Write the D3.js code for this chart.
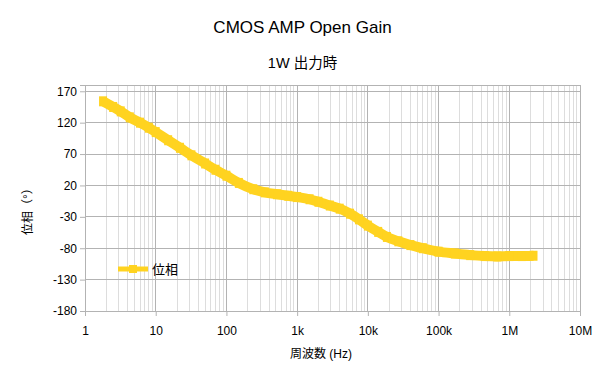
<!DOCTYPE html>
<html>
<head>
<meta charset="utf-8">
<script src="https://cdn.jsdelivr.net/npm/d3@7"></script>
<style>
  body { margin: 0; background: #fff; }
  text { font-family: "Liberation Sans", "Noto Sans CJK JP", sans-serif; }
</style>
</head>
<body>
<div id="chart-area"></div>
<script>
// phase response
var freqs  = [1.8, 2.5, 3.2, 4.3, 6, 8, 10, 15, 22, 32, 50, 70, 100, 150, 240, 350, 520, 750, 1000, 1500, 2000, 2900, 4000, 5600, 7500, 10000, 14000, 18600, 27000, 40000, 60000, 100000, 170000, 280000, 450000, 680000, 1000000, 1500000, 2200000];
var phases = [154, 145, 138, 128.5, 120, 112, 105, 92, 80, 68, 55, 45, 35.5, 24, 14, 9, 6, 3.5, 1.5, -2, -6, -12, -17, -25, -34, -44, -54, -62, -69, -75, -80, -85.5, -88.5, -91, -92.5, -93, -92.5, -92.5, -92];
var yTicks = [-180, -130, -80, -30, 20, 70, 120, 170];
var xTicks = [1, 10, 100, 1e3, 1e4, 1e5, 1e6, 1e7];
var xTickLabels = ["1", "10", "100", "1k", "10k", "100k", "1M", "10M"];
var seriesName = "位相";

var W = 605, H = 381;
var margin = {left: 85, right: 25, top: 85, bottom: 70};
var width = W - margin.left - margin.right;
var height = H - margin.top - margin.bottom;

var svg = d3.select("#chart-area").append("svg")
    .attr("width", W)
    .attr("height", H);

var g = svg.append("g")
    .attr("transform", "translate(" + margin.left + "," + margin.top + ")");

var x = d3.scaleLog().domain([1, 1e7]).range([0, width]);
var y = d3.scaleLinear().domain([-180, 180]).range([height, 0]);

// minor grid
var minor = [];
for (var e = 0; e < 7; e++) {
    for (var m = 2; m <= 9; m++) minor.push(m * Math.pow(10, e));
}
g.selectAll(".minor").data(minor).enter().append("line")
    .attr("x1", function(d){ return x(d); })
    .attr("x2", function(d){ return x(d); })
    .attr("y1", 0).attr("y2", height)
    .attr("stroke", "#dddddd").attr("stroke-width", 1)
    .attr("shape-rendering", "crispEdges");

// major grid
g.selectAll(".vmajor").data(xTicks).enter().append("line")
    .attr("x1", function(d){ return x(d); })
    .attr("x2", function(d){ return x(d); })
    .attr("y1", 0).attr("y2", height)
    .attr("stroke", "#b3b3b3").attr("shape-rendering", "crispEdges");
g.selectAll(".hmajor").data(yTicks.concat([180])).enter().append("line")
    .attr("x1", 0).attr("x2", width)
    .attr("y1", function(d){ return y(d); })
    .attr("y2", function(d){ return y(d); })
    .attr("stroke", "#b3b3b3").attr("shape-rendering", "crispEdges");

// axes
var xAxisCall = d3.axisBottom(x)
    .tickValues(xTicks)
    .tickSize(5)
    .tickFormat(function(d, i){ return xTickLabels[i]; });
var xAxis = g.append("g")
    .attr("transform", "translate(0," + height + ")")
    .call(xAxisCall);

var yAxisCall = d3.axisLeft(y)
    .tickValues(yTicks)
    .tickSize(5)
    .tickFormat(function(d){ return d; });
var yAxis = g.append("g").call(yAxisCall);

[xAxis, yAxis].forEach(function(a){
    a.select(".domain").attr("stroke", "#b3b3b3");
    a.selectAll(".tick line").attr("stroke", "#b3b3b3");
    a.selectAll(".tick text")
        .attr("fill", "#000")
        .attr("font-size", "12px")
        .attr("font-family", "Liberation Sans, sans-serif");
});
xAxis.selectAll(".tick text").attr("dy", "1.3em");
yAxis.selectAll(".tick text").attr("x", -8);

// series
var data = freqs.map(function(f, i){ return {f: f, v: phases[i]}; });
var line = d3.line()
    .x(function(d){ return x(d.f); })
    .y(function(d){ return y(d.v); })
    .curve(d3.curveMonotoneX);

g.append("path")
    .datum(data)
    .attr("fill", "none")
    .attr("stroke", "#ffd320")
    .attr("stroke-width", 10)
    .attr("stroke-linejoin", "round")
    .attr("d", line);

g.selectAll(".pt").data(data).enter().append("rect")
    .attr("x", function(d){ return x(d.f) - 4; })
    .attr("y", function(d){ return y(d.v) - 5; })
    .attr("width", 8).attr("height", 10)
    .attr("fill", "#ffd320");

// legend
var lg = svg.append("g").attr("transform", "translate(118,269)");
lg.append("line")
    .attr("x1", 0).attr("x2", 30)
    .attr("stroke", "#ffd320").attr("stroke-width", 5);
lg.append("rect")
    .attr("x", 11).attr("y", -4).attr("width", 8).attr("height", 8)
    .attr("fill", "#ffd320");
lg.append("text")
    .attr("x", 34).attr("y", 5)
    .attr("font-size", "13px")
    .attr("font-family", "Noto Sans CJK JP, sans-serif")
    .text(seriesName);

// titles
svg.append("text")
    .attr("x", W / 2).attr("y", 33)
    .attr("text-anchor", "middle")
    .attr("font-size", "17px")
    .text("CMOS AMP Open Gain");

svg.append("text")
    .attr("x", W / 2).attr("y", 68)
    .attr("text-anchor", "middle")
    .attr("font-size", "14.5px")
    .text("1W 出力時");

svg.append("text")
    .attr("x", 321).attr("y", 358)
    .attr("text-anchor", "middle")
    .attr("font-size", "12px")
    .text("周波数 (Hz)");

svg.append("text")
    .attr("transform", "translate(32,235) rotate(-90)")
    .attr("text-anchor", "start")
    .attr("font-size", "12px")
    .text("位相（°）");
</script>
</body>
</html>
